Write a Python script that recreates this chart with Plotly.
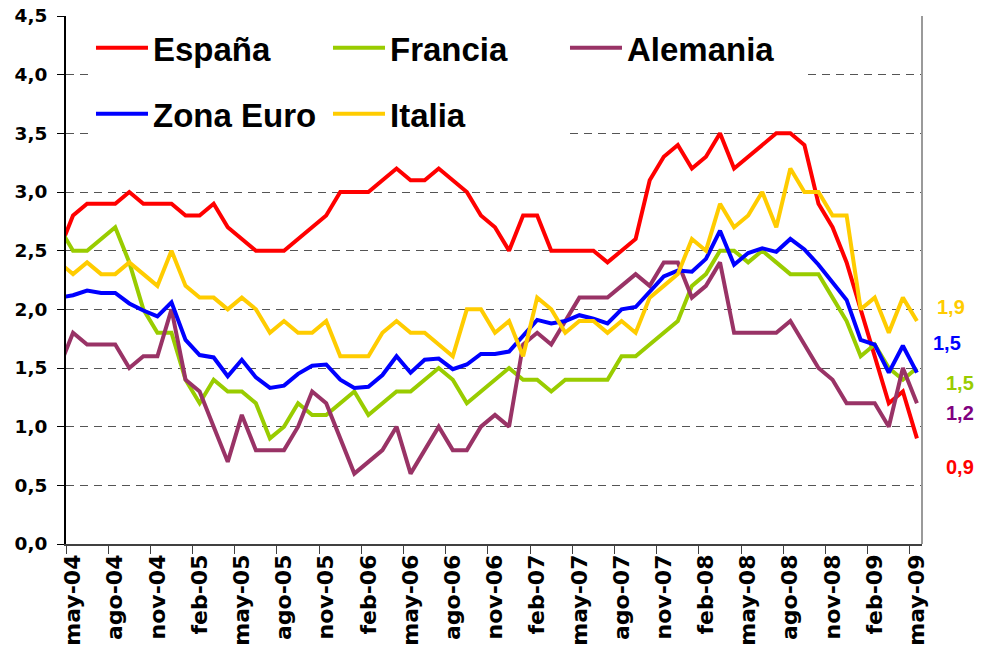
import plotly.graph_objects as go

# Categories (abr-04 is only partly visible: the plot starts at its right boundary)
categories = [
    "abr-04", "may-04", "jun-04", "jul-04", "ago-04", "sep-04", "oct-04", "nov-04", "dic-04",
    "ene-05", "feb-05", "mar-05", "abr-05", "may-05", "jun-05", "jul-05", "ago-05", "sep-05", "oct-05", "nov-05", "dic-05",
    "ene-06", "feb-06", "mar-06", "abr-06", "may-06", "jun-06", "jul-06", "ago-06", "sep-06", "oct-06", "nov-06", "dic-06",
    "ene-07", "feb-07", "mar-07", "abr-07", "may-07", "jun-07", "jul-07", "ago-07", "sep-07", "oct-07", "nov-07", "dic-07",
    "ene-08", "feb-08", "mar-08", "abr-08", "may-08", "jun-08", "jul-08", "ago-08", "sep-08", "oct-08", "nov-08", "dic-08",
    "ene-09", "feb-09", "mar-09", "abr-09", "may-09",
]

tick_labels = [
    "may-04", "ago-04", "nov-04", "feb-05", "may-05", "ago-05", "nov-05",
    "feb-06", "may-06", "ago-06", "nov-06", "feb-07", "may-07", "ago-07",
    "nov-07", "feb-08", "may-08", "ago-08", "nov-08", "feb-09", "may-09",
]

espana = [2.5, 2.8, 2.9, 2.9, 2.9, 3.0, 2.9, 2.9, 2.9, 2.8, 2.8, 2.9, 2.7, 2.6, 2.5, 2.5, 2.5,
          2.6, 2.7, 2.8, 3.0, 3.0, 3.0, 3.1, 3.2, 3.1, 3.1, 3.2, 3.1, 3.0, 2.8, 2.7, 2.5,
          2.8, 2.8, 2.5, 2.5, 2.5, 2.5, 2.4, 2.5, 2.6, 3.1, 3.3, 3.4, 3.2, 3.3, 3.5, 3.2,
          3.3, 3.4, 3.5, 3.5, 3.4, 2.9, 2.7, 2.4, 2.0, 1.6, 1.2, 1.3, 0.9]

francia = [2.7, 2.5, 2.5, 2.6, 2.7, 2.4, 2.0, 1.8, 1.8, 1.4, 1.2, 1.4, 1.3, 1.3, 1.2, 0.9, 1.0,
           1.2, 1.1, 1.1, 1.2, 1.3, 1.1, 1.2, 1.3, 1.3, 1.4, 1.5, 1.4, 1.2, 1.3, 1.4, 1.5,
           1.4, 1.4, 1.3, 1.4, 1.4, 1.4, 1.4, 1.6, 1.6, 1.7, 1.8, 1.9, 2.2, 2.3, 2.5, 2.5,
           2.4, 2.5, 2.4, 2.3, 2.3, 2.3, 2.1, 1.9, 1.6, 1.7, 1.5, 1.4, 1.5]

alemania = [1.5, 1.8, 1.7, 1.7, 1.7, 1.5, 1.6, 1.6, 2.0, 1.4, 1.3, 1.0, 0.7, 1.1, 0.8, 0.8, 0.8,
            1.0, 1.3, 1.2, 0.9, 0.6, 0.7, 0.8, 1.0, 0.6, 0.8, 1.0, 0.8, 0.8, 1.0, 1.1, 1.0,
            1.7, 1.8, 1.7, 1.9, 2.1, 2.1, 2.1, 2.2, 2.3, 2.2, 2.4, 2.4, 2.1, 2.2, 2.4, 1.8,
            1.8, 1.8, 1.8, 1.9, 1.7, 1.5, 1.4, 1.2, 1.2, 1.2, 1.0, 1.5, 1.2]

zona_euro = [2.10, 2.12, 2.16, 2.14, 2.14, 2.05, 1.99, 1.94, 2.06, 1.74, 1.61, 1.59, 1.43, 1.57, 1.42, 1.33, 1.35,
             1.45, 1.52, 1.53, 1.40, 1.33, 1.34, 1.44, 1.60, 1.46, 1.57, 1.58, 1.49, 1.53, 1.62, 1.62, 1.64,
             1.78, 1.91, 1.88, 1.90, 1.95, 1.92, 1.88, 2.00, 2.02, 2.15, 2.28, 2.33, 2.32, 2.43, 2.67, 2.38,
             2.48, 2.52, 2.49, 2.60, 2.51, 2.38, 2.23, 2.08, 1.74, 1.70, 1.46, 1.69, 1.46]

italia = [2.4, 2.3, 2.4, 2.3, 2.3, 2.4, 2.3, 2.2, 2.5, 2.2, 2.1, 2.1, 2.0, 2.1, 2.0, 1.8, 1.9,
          1.8, 1.8, 1.9, 1.6, 1.6, 1.6, 1.8, 1.9, 1.8, 1.8, 1.7, 1.6, 2.0, 2.0, 1.8, 1.9,
          1.6, 2.1, 2.0, 1.8, 1.9, 1.9, 1.8, 1.9, 1.8, 2.1, 2.2, 2.3, 2.6, 2.5, 2.9, 2.7,
          2.8, 3.0, 2.7, 3.2, 3.0, 3.0, 2.8, 2.8, 2.0, 2.1, 1.8, 2.1, 1.9]

series = [
    ("España", espana, "#FF0000", "legend"),
    ("Francia", francia, "#99CC00", "legend"),
    ("Alemania", alemania, "#993366", "legend"),
    ("Zona Euro", zona_euro, "#0000FF", "legend2"),
    ("Italia", italia, "#FFCC00", "legend2"),
]

# end-label styling (colour and offset from the last point, in px)
end_labels = {
    "Italia": ("#FFCC00", 34, 14),
    "Zona Euro": ("#0000FF", 30, 30),
    "Francia": ("#99CC00", 43, -15),
    "Alemania": ("#800080", 43, -10),
    "España": ("#FF0000", 43, -29),
}

fig = go.Figure()
for name, vals, color, leg in series:
    fig.add_trace(go.Scatter(
        x=categories, y=vals, mode="lines", name=name,
        line=dict(color=color, width=4), legend=leg,
    ))

annotations = []
for name, vals, color, leg in series:
    c, dx, dy = end_labels[name]
    annotations.append(dict(
        x=categories[-1], y=vals[-1], xref="x", yref="y",
        text=f"{vals[-1]:.1f}".replace(".", ","), showarrow=False,
        xshift=dx, yshift=dy,
        font=dict(family="Liberation Sans", size=20, color=c, weight="bold"),
    ))

legend_font = dict(family="Liberation Sans", size=33, color="black", weight="bold")

# the page body adds an 8px offset, so the figure is 8px smaller on each axis
fig.update_layout(
    width=982, height=656,
    margin=dict(l=58, r=68, t=8, b=120, autoexpand=False),
    paper_bgcolor="white", plot_bgcolor="white",
    separators=",.",
    showlegend=True,
    legend=dict(orientation="h", x=0.0292, y=0.9926, xanchor="left", yanchor="top",
                bgcolor="white", font=legend_font, itemwidth=52,
                entrywidth=170, entrywidthmode="pixels", traceorder="normal"),
    legend2=dict(orientation="h", x=0.0292, y=0.8676, xanchor="left", yanchor="top",
                 bgcolor="white", font=legend_font, itemwidth=52,
                 entrywidth=170, entrywidthmode="pixels", traceorder="normal"),
    annotations=annotations,
    shapes=[dict(type="line", xref="paper", yref="paper", x0=1, x1=1, y0=0, y1=1,
                 line=dict(color="#9a9a9a", width=2))],
)

fig.update_xaxes(
    type="category", categoryorder="array", categoryarray=categories,
    range=[0.5, 61.36], automargin=False, ticklabeloverflow="allow",
    tickmode="array", tickvals=tick_labels, ticktext=tick_labels,
    tickson="boundaries", ticks="outside", ticklen=8, tickcolor="#404040", tickwidth=1,
    tickangle=-90,
    tickfont=dict(family="DejaVu Sans", size=22, color="black", weight="bold"),
    showline=True, linecolor="#404040", linewidth=1.5,
    showgrid=False, zeroline=False,
)

fig.update_yaxes(
    range=[0, 4.5], dtick=0.5, tick0=0, tickformat=".1f", automargin=False,
    ticklabeloverflow="allow",
    ticks="outside", ticklen=7, tickcolor="black", tickwidth=1,
    ticklabelstandoff=6,
    tickfont=dict(family="DejaVu Sans", size=18.5, color="black", weight="bold"),
    showline=True, linecolor="black", linewidth=2,
    showgrid=True, gridcolor="#555555", gridwidth=1, griddash="8px,6px",
    zeroline=False,
)

fig.write_html("out.html")
